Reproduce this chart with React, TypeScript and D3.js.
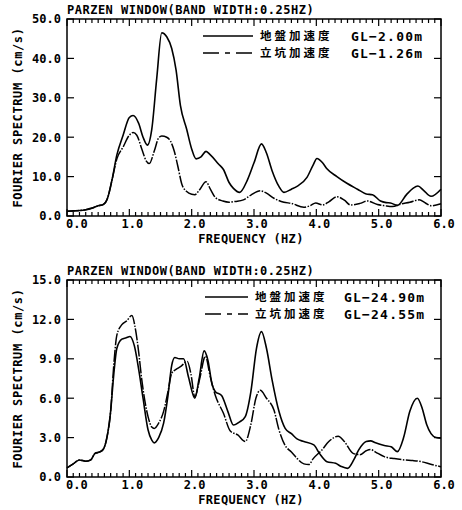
import React, { useRef, useEffect } from 'react'
import * as d3 from 'd3'

// --- data ---
const topGroundFreq = [0, 0.1, 0.2, 0.3, 0.4, 0.5, 0.58, 0.65, 0.72, 0.8, 0.9, 1.0, 1.06, 1.15, 1.22, 1.29, 1.36, 1.44, 1.52, 1.6, 1.68, 1.75, 1.82, 1.92, 2.0, 2.07, 2.15, 2.23, 2.3, 2.43, 2.51, 2.6, 2.67, 2.77, 2.89, 3.0, 3.12, 3.2, 3.29, 3.4, 3.48, 3.6, 3.69, 3.85, 3.95, 4.01, 4.1, 4.17, 4.33, 4.49, 4.66, 4.8, 4.9, 5.03, 5.12, 5.19, 5.3, 5.45, 5.55, 5.63, 5.72, 5.84, 6.0]
const topGroundVal = [1.2, 1.3, 1.4, 1.6, 2.0, 2.6, 2.9, 4.5, 9, 15.5, 20.5, 25, 25.5, 23.5, 20, 18, 22, 35, 46.5, 45.5, 42.5, 37, 28, 22, 17, 14.5, 15, 16.4, 15.5, 13.2, 11.8, 8.5, 7, 6, 9, 13.5, 18.3, 16, 11.5, 7.5, 6, 6.8, 7.5, 9.8, 13, 14.6, 13.5, 12, 10, 8.3, 6.8, 5.6, 5.4, 3.8, 3.4, 3.3, 2.7, 5.5, 7, 7.6, 6.5, 5.0, 6.8]

const topShaftFreq = [0, 0.1, 0.2, 0.3, 0.4, 0.5, 0.58, 0.65, 0.72, 0.8, 0.9, 1.0, 1.06, 1.12, 1.2, 1.27, 1.32, 1.4, 1.47, 1.52, 1.6, 1.66, 1.72, 1.78, 1.84, 1.92, 2.0, 2.05, 2.12, 2.23, 2.3, 2.38, 2.5, 2.6, 2.7, 2.83, 2.95, 3.1, 3.2, 3.32, 3.48, 3.6, 3.8, 3.9, 3.99, 4.1, 4.2, 4.33, 4.45, 4.55, 4.7, 4.82, 4.98, 5.1, 5.22, 5.35, 5.5, 5.65, 5.75, 5.84, 6.0]
const topShaftVal = [1.2, 1.3, 1.4, 1.6, 2.0, 2.6, 2.9, 4.5, 9, 14.5, 17.5, 20.5, 21.2, 20.5, 17, 14, 13.3, 16.5, 19.8, 20.3, 20, 19, 16.5, 12.5, 8.2, 6.2, 5.5, 5.4, 6.5, 8.7, 6.8, 4.7, 3.8, 3.5, 3.7, 4.1, 5.3, 6.4, 5.8, 4.5, 3.5, 3.2, 2.2, 2.6, 3.3, 2.8, 3.6, 4.9, 4.0, 2.8, 3.2, 3.8, 2.9, 2.6, 2.4, 3.0, 3.5, 4.1, 3.3, 2.6, 3.1]

const botGroundFreq = [0, 0.1, 0.2, 0.3, 0.38, 0.45, 0.52, 0.58, 0.64, 0.7, 0.75, 0.8, 0.88, 0.95, 1.01, 1.08, 1.15, 1.22, 1.3, 1.36, 1.4, 1.47, 1.55, 1.62, 1.68, 1.73, 1.8, 1.87, 1.95, 2.05, 2.12, 2.2, 2.26, 2.33, 2.38, 2.48, 2.58, 2.67, 2.77, 2.86, 2.95, 3.04, 3.12, 3.2, 3.29, 3.4, 3.5, 3.6, 3.69, 3.8, 3.96, 4.05, 4.17, 4.31, 4.4, 4.5, 4.6, 4.68, 4.8, 4.87, 4.95, 5.09, 5.2, 5.3, 5.4, 5.5, 5.62, 5.7, 5.77, 5.84, 5.92, 6.0]
const botGroundVal = [0.7, 1.0, 1.3, 1.2, 1.3, 1.8, 1.9, 2.1, 3.0, 5.0, 7.8, 9.8, 10.5, 10.6, 10.7, 10.0, 8.2, 6.0, 3.6, 2.8, 2.6, 3.0, 4.1, 6.2, 8.5, 9.1, 9.0, 9.0, 7.6, 6.0, 7.5, 9.6, 8.9, 7.0, 6.5, 6.2, 5.0, 3.96, 4.2, 4.6, 6.5, 9.8, 11.07, 9.8, 7.4, 5.0, 3.7, 3.3, 2.9, 2.7, 2.44, 1.8, 1.17, 1.04, 0.8, 0.66, 1.3, 2.06, 2.7, 2.75, 2.6, 2.4, 2.3, 1.93, 3.0, 5.0, 6.0, 5.2, 4.0, 3.3, 3.0, 2.95]

const botShaftFreq = [0, 0.1, 0.2, 0.3, 0.38, 0.45, 0.52, 0.58, 0.64, 0.7, 0.75, 0.8, 0.88, 0.96, 1.04, 1.1, 1.15, 1.2, 1.3, 1.36, 1.4, 1.47, 1.55, 1.62, 1.68, 1.75, 1.82, 1.93, 1.99, 2.05, 2.13, 2.22, 2.3, 2.38, 2.51, 2.62, 2.74, 2.86, 2.95, 3.03, 3.1, 3.2, 3.32, 3.4, 3.5, 3.6, 3.69, 3.8, 3.88, 3.95, 4.09, 4.2, 4.35, 4.45, 4.59, 4.7, 4.8, 4.87, 4.95, 5.09, 5.25, 5.41, 5.55, 5.68, 5.85, 6.0]
const botShaftVal = [0.7, 1.0, 1.3, 1.2, 1.3, 1.8, 1.9, 2.1, 3.0, 5.0, 8.5, 10.8, 11.6, 11.9, 12.3, 11.2, 9.5, 7.4, 4.6, 3.8, 3.7, 4.1, 5.0, 6.5, 7.9, 8.2, 8.4, 8.8, 7.8, 6.1, 7.5, 9.2, 7.6, 6.2, 4.85, 3.5, 3.2, 2.7, 4.0, 6.0, 6.6, 6.0, 5.1, 3.6, 2.4, 1.9, 1.42, 1.0, 0.95, 1.4, 2.06, 2.7, 3.1, 2.7, 1.8, 1.7, 2.0, 2.1, 1.9, 1.55, 1.4, 1.3, 1.25, 1.17, 0.95, 0.78]

const freqTicks = [0, 1, 2, 3, 4, 5, 6]
const topYTicks = [0, 10, 20, 30, 40, 50]
const botYTicks = [0, 3, 6, 9, 12, 15]
const header = 'PARZEN WINDOW(BAND WIDTH:0.25HZ)'
const topLegend = [['地盤加速度', 'GL−2.00m'], ['立坑加速度', 'GL−1.26m']]
const botLegend = [['地盤加速度', 'GL−24.90m'], ['立坑加速度', 'GL−24.55m']]

const MONO = '"DejaVu Sans Mono", monospace'
const CJK = '"Noto Sans CJK JP", sans-serif'

const panels = [
  { y0: 19, y1: 216, yTicks: topYTicks, ground: [topGroundFreq, topGroundVal], shaft: [topShaftFreq, topShaftVal], legend: topLegend, lx0: 203, lx1: 253, tx: 260, gx: 351 },
  { y0: 280, y1: 477, yTicks: botYTicks, ground: [botGroundFreq, botGroundVal], shaft: [botShaftFreq, botShaftVal], legend: botLegend, lx0: 205, lx1: 248, tx: 255, gx: 344 }
]

const App = () => {
  const ref = useRef(null)

  useEffect(() => {
    const svg = d3.select(ref.current)
    svg.selectAll('*').remove()
    const x0 = 67, x1 = 441

    const x = d3.scaleLinear().domain([0, 6]).range([x0, x1])

    panels.forEach(p => {
      const y = d3.scaleLinear().domain([0, d3.max(p.yTicks)]).range([p.y1, p.y0])
      const g = svg.append('g')

      // frame
      g.append('rect')
        .attr('x', x0).attr('y', p.y0)
        .attr('width', x1 - x0).attr('height', p.y1 - p.y0)
        .attr('fill', 'none').attr('stroke', 'black').attr('stroke-width', 1.5)

      // minor ticks every 0.1 Hz, top and bottom, inward
      const minor = d3.range(0, 61).map(i => i / 10)
      minor.forEach(f => {
        const major = Math.abs(f - Math.round(f)) < 1e-6
        const len = major ? 7 : 4
        g.append('line').attr('x1', x(f)).attr('x2', x(f))
          .attr('y1', p.y1).attr('y2', p.y1 - len)
          .attr('stroke', 'black').attr('stroke-width', 1.2)
        g.append('line').attr('x1', x(f)).attr('x2', x(f))
          .attr('y1', p.y0).attr('y2', p.y0 + len)
          .attr('stroke', 'black').attr('stroke-width', 1.2)
      })

      // y ticks left and right
      p.yTicks.forEach(v => {
        g.append('line').attr('x1', x0).attr('x2', x0 + 7)
          .attr('y1', y(v)).attr('y2', y(v)).attr('stroke', 'black').attr('stroke-width', 1.2)
        g.append('line').attr('x1', x1).attr('x2', x1 - 7)
          .attr('y1', y(v)).attr('y2', y(v)).attr('stroke', 'black').attr('stroke-width', 1.2)
        g.append('text')
          .attr('x', 61).attr('y', y(v)).attr('dy', '0.36em')
          .attr('text-anchor', 'end')
          .attr('font-family', MONO).attr('font-weight', 'bold').attr('font-size', 12)
          .text(d3.format('.1f')(v))
      })

      // x tick labels
      freqTicks.forEach(f => {
        g.append('text')
          .attr('x', f === 0 ? x0 - 1 : x(f) + 3)
          .attr('y', p.y1 + 12)
          .attr('text-anchor', f === 0 ? 'start' : 'middle')
          .attr('font-family', MONO).attr('font-weight', 'bold').attr('font-size', 12)
          .text(d3.format('.1f')(f))
      })

      // titles
      g.append('text')
        .attr('x', x0).attr('y', p.y0 - 5)
        .attr('font-family', MONO).attr('font-weight', 'bold').attr('font-size', 12)
        .attr('letter-spacing', 0.5)
        .text(header)
      g.append('text')
        .attr('x', 251).attr('y', p.y1 + 27)
        .attr('text-anchor', 'middle')
        .attr('font-family', MONO).attr('font-weight', 'bold').attr('font-size', 12)
        .attr('letter-spacing', 0.3)
        .text('FREQUENCY (HZ)')
      g.append('text')
        .attr('transform', `translate(18,${(p.y0 + p.y1) / 2}) rotate(-90)`)
        .attr('dy', '0.36em')
        .attr('text-anchor', 'middle')
        .attr('font-family', MONO).attr('font-weight', 'bold').attr('font-size', 12)
        .attr('letter-spacing', 0.6)
        .text('FOURIER SPECTRUM (cm/s)')

      // curves
      const line = d3.line()
        .x(d => x(d[0]))
        .y(d => y(d[1]))
        .curve(d3.curveMonotoneX)

      const ground = d3.zip(p.ground[0], p.ground[1])
      const shaft = d3.zip(p.shaft[0], p.shaft[1])

      g.append('path').attr('d', line(shaft))
        .attr('fill', 'none').attr('stroke', 'black').attr('stroke-width', 1.5)
        .attr('stroke-dasharray', '12,1.5,1.5,1.5')
      g.append('path').attr('d', line(ground))
        .attr('fill', 'none').attr('stroke', 'black').attr('stroke-width', 1.6)

      // legend
      p.legend.forEach((row, i) => {
        const ly = p.y0 + 17 + i * 17
        g.append('line').attr('x1', p.lx0).attr('x2', p.lx1)
          .attr('y1', ly).attr('y2', ly)
          .attr('stroke', 'black').attr('stroke-width', 1.5)
          .attr('stroke-dasharray', i === 0 ? null : '16,6,5,6')
        g.append('text')
          .attr('x', p.tx).attr('y', ly).attr('dy', '0.36em')
          .attr('font-family', CJK).attr('font-weight', 'bold').attr('font-size', 11.5)
          .attr('letter-spacing', 3)
          .text(row[0])
        g.append('text')
          .attr('x', p.gx).attr('y', ly).attr('dy', '0.36em')
          .attr('font-family', MONO).attr('font-weight', 'bold').attr('font-size', 13)
          .attr('letter-spacing', 1.2)
          .text(row[1])
      })
    })
  }, [])

  return (
    <svg ref={ref} width={462} height={510}
      style={{ position: 'absolute', left: 0, top: 0, background: 'white' }} />
  )
}

export default App
